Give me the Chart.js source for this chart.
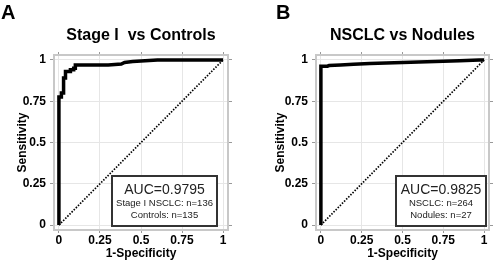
<!DOCTYPE html>
<html>
<head>
<meta charset="utf-8">
<script src="https://cdn.jsdelivr.net/npm/chart.js@4"></script>
<style>
  body { margin: 0; background: #fff; }
  .panel { position: absolute; top: 0; }
</style>
</head>
<body>
<canvas id="rocA" class="panel" width="250" height="267" style="left:0"></canvas>
<canvas id="rocB" class="panel" width="250" height="267" style="left:250px"></canvas>
<script>
// ROC curve (1-specificity, sensitivity)
var fprA = [0, 0, 0.015, 0.015, 0.025, 0.025, 0.03, 0.03, 0.04, 0.04, 0.06, 0.07, 0.07, 0.09, 0.09, 0.1, 0.1, 0.2, 0.3, 0.38, 0.4, 0.45, 0.6, 1];
var tprA = [0, 0.775, 0.775, 0.8, 0.8, 0.85, 0.85, 0.89, 0.89, 0.93, 0.93, 0.93, 0.94, 0.94, 0.95, 0.95, 0.97, 0.97, 0.97, 0.975, 0.985, 0.99, 1, 1];
var fprB = [0, 0, 0.04, 0.05, 0.12, 0.2, 0.3, 0.4, 0.55, 0.7, 0.85, 0.97, 1];
var tprB = [0, 0.962, 0.962, 0.966, 0.97, 0.974, 0.978, 0.982, 0.986, 0.99, 0.995, 1, 1];
var diagX = [0, 1];
var diagY = [0, 1];
var tickValues = [0, 0.25, 0.5, 0.75, 1];

var FONT = 'Liberation Sans, Arial, sans-serif';

function pts(xs, ys) {
    return xs.map(function (x, i) { return {x: x, y: ys[i]}; });
}

function setTicks(scale) {
    scale.ticks = tickValues.map(function (v) { return {value: v}; });
}

function panelPlugin(p) {
    return {
        id: 'panel' + p.letter,
        afterDraw: function (chart) {
            var c = chart.ctx, a = chart.chartArea;
            c.save();
            // plot frame
            c.strokeStyle = '#c8c8c8';
            c.lineWidth = 2;
            c.strokeRect(a.left, a.top, a.right - a.left, a.bottom - a.top);
            // panel letter and title
            c.fillStyle = '#000';
            c.textBaseline = 'alphabetic';
            c.textAlign = 'left';
            c.font = 'bold 20px ' + FONT;
            c.fillText(p.letter, p.letterX, 19);
            c.textAlign = 'center';
            c.textBaseline = 'middle';
            c.font = 'bold 16px ' + FONT;
            c.fillText(p.title, (a.left + a.right) / 2, 36);
            // AUC box
            var bx = a.right - p.boxRight - p.boxW, by = a.bottom - 4 - 50;
            c.fillStyle = '#fff';
            c.fillRect(bx, by, p.boxW, 50);
            c.strokeStyle = '#333';
            c.lineWidth = 2;
            c.strokeRect(bx, by, p.boxW, 50);
            c.fillStyle = '#222';
            c.font = '14px ' + FONT;
            c.fillText(p.auc, bx + p.boxW / 2, by + 14);
            c.font = '9.5px ' + FONT;
            c.fillText(p.line1, bx + p.boxW / 2, by + 27);
            c.fillText(p.line2, bx + p.boxW / 2, by + 39);
            c.restore();
        }
    };
}

function axis(pos, extra) {
    var horiz = pos === 'bottom' || pos === 'top';
    var s = {
        type: 'linear',
        position: pos,
        min: -0.03,
        max: 1.03,
        afterBuildTicks: setTicks,
        border: {display: false},
        grid: {
            color: '#e6e6e6',
            tickColor: '#999',
            tickLength: horiz ? 3 : 4,
            drawOnChartArea: pos === 'bottom' || pos === 'left'
        },
        ticks: {
            display: pos === 'bottom' || pos === 'left',
            color: '#000',
            font: {family: FONT, size: 12, weight: 'bold'},
            padding: horiz ? 0 : 4,
            maxRotation: 0,
            autoSkip: false,
            callback: function (v) { return String(v); }
        }
    };
    for (var k in extra) s[k] = extra[k];
    return s;
}

function makePanel(id, fpr, tpr, p) {
    return new Chart(document.getElementById(id), {
        type: 'line',
        data: {
            datasets: [{
                data: pts(fpr, tpr),
                borderColor: '#000',
                borderWidth: 3.5,
                pointRadius: 0,
                tension: 0
            }, {
                data: pts(diagX, diagY),
                borderColor: '#000',
                borderWidth: 1.7,
                borderDash: [1.5, 1.5],
                pointRadius: 0
            }]
        },
        options: {
            responsive: false,
            animation: false,
            devicePixelRatio: 1,
            layout: {padding: 0},
            plugins: {legend: {display: false}, tooltip: {enabled: false}},
            scales: {
                x: axis('bottom', {
                    title: {display: true, text: '1-Specificity', color: '#000',
                        font: {family: FONT, size: 12, weight: 'bold'}, padding: {top: 0, bottom: 6}},
                    afterFit: function (s) { s.height = 37; }
                }),
                y: axis('left', {
                    title: {display: true, text: 'Sensitivity', color: '#000',
                        font: {family: FONT, size: 12, weight: 'bold'}, padding: {top: p.yTitlePad, bottom: 0}},
                    afterFit: function (s) { s.width = p.left; }
                }),
                x2: axis('top', {afterFit: function (s) { s.height = 55; }}),
                y2: axis('right', {afterFit: function (s) { s.width = p.right; }})
            }
        },
        plugins: [panelPlugin(p)]
    });
}

makePanel('rocA', fprA, tprA, {
    letter: 'A', letterX: 1, title: 'Stage I  vs Controls',
    left: 54, right: 22, yTitlePad: 15.5,
    boxW: 105, boxRight: 11,
    auc: 'AUC=0.9795', line1: 'Stage I NSCLC: n=136', line2: 'Controls: n=135'
});
makePanel('rocB', fprB, tprB, {
    letter: 'B', letterX: 26, title: 'NSCLC vs Nodules',
    left: 66, right: 11, yTitlePad: 23,
    boxW: 90, boxRight: 3,
    auc: 'AUC=0.9825', line1: 'NSCLC: n=264', line2: 'Nodules: n=27'
});
</script>
</body>
</html>
